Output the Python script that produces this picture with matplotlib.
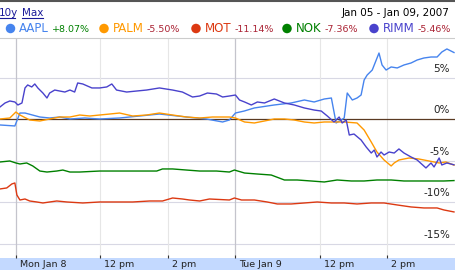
import matplotlib.pyplot as plt
import matplotlib.patches as mpatches
import matplotlib.transforms as mtransforms

# trading hours since Mon Jan 8 open (Tue Jan 9 open = 6.5), percent change
aapl_t = [-0.47, -0.03, 0.12, 0.27, 0.71, 1.00, 1.30, 1.60, 2.04, 2.48, 3.07, 3.66, 4.25,
          5.05, 5.64, 6.12, 6.32, 6.50, 6.76, 7.06, 7.65, 8.15, 8.54, 8.83, 9.13, 9.34,
          9.48, 9.63, 9.72, 9.81, 9.96, 10.10, 10.22, 10.31, 10.40, 10.55, 10.75, 10.84,
          10.96, 11.11, 11.29, 11.49, 11.70, 11.88, 12.08, 12.29, 12.47, 12.61, 12.76, 12.97]
aapl_v = [-0.66, -0.78, 0.78, 0.78, 0.30, 0.18, 0.30, 0.06, 0.18, 0.06, 0.18, 0.42, 0.66,
          0.30, 0.06, -0.30, -0.06, 0.78, 1.02, 1.39, 1.75, 1.99, 2.35, 2.11, 2.47, 2.59,
          -0.42, -0.06, 0.18, 3.19, 2.35, 2.59, 2.95, 4.76, 5.36, 5.96, 8.01, 6.57,
          5.96, 6.33, 6.21, 6.57, 6.81, 7.17, 7.41, 7.53, 7.53, 8.13, 8.50, 8.07]

palm_t = [-0.47, -0.18, 0.00, 0.12, 0.41, 0.71, 1.00, 1.30, 1.60, 1.89, 2.19, 2.48, 2.78,
          3.07, 3.46, 3.87, 4.25, 4.64, 5.05, 5.44, 5.82, 6.32, 6.50, 6.77, 7.06, 7.36,
          7.65, 7.95, 8.24, 8.54, 8.83, 9.13, 9.42, 9.72, 10.10, 10.31, 10.52, 10.69,
          10.90, 11.11, 11.20, 11.34, 11.64, 11.93, 12.23, 12.53, 12.73, 12.97]
palm_v = [0.06, 0.18, 0.90, 0.54, -0.06, -0.18, 0.06, 0.30, 0.30, 0.54, 0.42, 0.54, 0.66,
          0.78, 0.42, 0.54, 0.78, 0.54, 0.30, 0.18, 0.30, 0.30, 0.18, -0.30, -0.42, -0.18,
          0.06, 0.06, -0.06, -0.30, -0.42, -0.30, -0.30, -0.30, -0.42, -1.27, -2.71, -3.92,
          -4.88, -5.60, -5.24, -4.88, -4.64, -4.76, -5.00, -5.24, -5.12, -5.50]

mot_t = [-0.47, -0.27, -0.12, -0.03, 0.03, 0.12, 0.27, 0.41, 0.62, 0.80, 1.00, 1.21, 1.51,
         1.98, 2.48, 2.98, 3.46, 3.96, 4.34, 4.64, 4.93, 5.14, 5.44, 5.73, 6.32, 6.47,
         6.68, 7.06, 7.44, 7.74, 8.15, 8.54, 8.92, 9.34, 9.72, 10.10, 10.52, 10.90,
         11.29, 11.70, 12.08, 12.47, 12.67, 12.97]
mot_v = [-8.37, -8.25, -7.77, -7.65, -9.10, -9.70, -9.58, -9.82, -9.94, -10.06, -9.94, -9.82, -9.94,
         -10.06, -9.94, -9.94, -9.94, -9.82, -9.82, -9.46, -9.58, -9.70, -9.82, -9.58, -9.70, -9.46,
         -9.70, -9.70, -9.94, -10.18, -10.18, -10.06, -9.94, -10.06, -10.06, -10.18, -10.06, -10.06,
         -10.30, -10.54, -10.66, -10.66, -10.90, -11.14]

nok_t = [-0.47, -0.18, 0.00, 0.12, 0.32, 0.50, 0.71, 0.92, 1.21, 1.39, 1.60, 1.89, 2.48,
         3.46, 4.17, 4.34, 4.64, 5.05, 5.44, 5.94, 6.32, 6.47, 6.77, 7.15, 7.56, 7.95,
         8.33, 8.74, 9.13, 9.51, 9.93, 10.31, 10.69, 11.11, 11.49, 11.88, 12.29, 12.67, 12.97]
nok_v = [-5.12, -5.00, -5.24, -5.36, -5.24, -5.60, -6.21, -6.33, -6.21, -6.09, -6.33, -6.33, -6.21,
         -6.21, -6.21, -5.96, -5.96, -6.09, -6.21, -6.21, -6.33, -6.09, -6.45, -6.57, -6.69, -7.29,
         -7.29, -7.41, -7.53, -7.29, -7.41, -7.41, -7.29, -7.29, -7.41, -7.41, -7.41, -7.41, -7.36]

rimm_t = [-0.47, -0.32, -0.18, -0.03, 0.06, 0.18, 0.27, 0.35, 0.47, 0.56, 0.65, 0.80, 0.92,
          1.00, 1.15, 1.30, 1.45, 1.60, 1.74, 1.83, 1.98, 2.25, 2.48, 2.69, 2.84, 2.98,
          3.28, 3.57, 3.87, 4.25, 4.64, 4.93, 5.23, 5.44, 5.67, 5.94, 6.12, 6.32, 6.50,
          6.62, 6.77, 6.97, 7.15, 7.36, 7.65, 7.95, 8.24, 8.54, 8.83, 9.04, 9.22, 9.42,
          9.57, 9.66, 9.78, 9.87, 10.01, 10.22, 10.37, 10.52, 10.61, 10.69, 10.81, 10.90,
          11.05, 11.20, 11.34, 11.49, 11.70, 11.88, 12.14, 12.29, 12.38, 12.53, 12.61, 12.76, 12.97]
rimm_v = [1.51, 1.99, 2.23, 2.11, 1.75, 1.99, 3.80, 4.16, 3.92, 4.28, 3.80, 3.19, 2.59,
          3.19, 3.55, 3.43, 3.31, 3.55, 3.31, 4.40, 4.28, 3.80, 3.80, 3.92, 4.28, 3.55,
          3.31, 3.43, 3.55, 3.80, 3.55, 3.31, 2.71, 2.83, 3.19, 3.07, 2.71, 2.83, 2.95,
          2.35, 2.11, 1.75, 2.11, 1.99, 2.47, 1.99, 1.75, 1.39, 1.14, 1.02, 0.42, -0.30,
          0.30, -0.42, -0.06, -1.87, -1.75, -2.47, -3.31, -4.04, -3.68, -4.52, -3.92, -4.28,
          -3.92, -4.04, -3.55, -4.04, -4.52, -4.88, -5.84, -5.24, -5.72, -4.64, -5.48, -5.24, -5.46]

tickers = ["AAPL", "PALM", "MOT", "NOK", "RIMM"]
changes = ["+8.07%", "-5.50%", "-11.14%", "-7.36%", "-5.46%"]
colors = ["#4684ee", "#ff9900", "#dc3912", "#008000", "#4942cc"]

x_ticks = [0, 2.5, 4.5, 6.5, 9.0, 11.0]
x_labels = ["Mon Jan 8", "12 pm", "2 pm", "Tue Jan 9", "12 pm", "2 pm"]
day_starts = [0, 6.5]
y_ticks = [5, -5, -10, -15]
y_labels = ["5%", "0%", "-5%", "-10%", "-15%"]

W, H = 455, 270
fig = plt.figure(figsize=(W / 100, H / 100), dpi=100)

# frame layer in pixel coordinates (header, legend, bottom band)
ov = fig.add_axes([0, 0, 1, 1])
ov.set_xlim(0, W)
ov.set_ylim(H, 0)
ov.axis('off')
ov.add_patch(mpatches.Rectangle((0, 258), W, 12, color="#c3d9ff", lw=0))
ov.plot([0, W], [0.6, 0.6], color="#555555", lw=1.5)

link = "#1a1a99"
ov.text(-1, 13, "10y", fontsize=7.5, color=link, va='center')
ov.plot([0, 15], [17.5, 17.5], color=link, lw=0.8)
ov.text(22, 13, "Max", fontsize=7.5, color=link, va='center')
ov.plot([22, 43], [17.5, 17.5], color=link, lw=0.8)
ov.text(449, 13, "Jan 05 - Jan 09, 2007", fontsize=7.5, color="#000000",
        va='center', ha='right')

leg_x = [10.5, 104, 196, 287, 374]
for lx, name, chg, c in zip(leg_x, tickers, changes, colors):
    ov.add_patch(mpatches.Ellipse((lx, 28.5), 9.5, 9.5, color=c, lw=0))
    t = ov.text(lx + 8.5, 29, name, fontsize=8.5, color=c, va='center')
    fig.canvas.draw()
    bb = t.get_window_extent()
    pc = "#008000" if chg.startswith("+") else "#aa2233"
    ov.text(bb.x1 + 3, 29.5, chg, fontsize=6.8, color=pc, va='center')

# chart
ax = fig.add_axes([0, 12 / H, 1, 220 / H])
ax.set_facecolor('none')
ax.set_xlim(-0.47, 13.0)
ax.set_ylim(-16.69, 9.82)

for yv in y_ticks:
    ax.axhline(yv, color="#d8d8e4", lw=0.8, zorder=1)
ax.axhline(0, color="#5a3a22", lw=0.9, zorder=2)
for xv in x_ticks:
    if xv in day_starts:
        ax.axvline(xv, color="#c4c4cc", lw=0.9, zorder=1)
    else:
        ax.axvline(xv, color="#e6e6e6", lw=0.8, zorder=1)

series = [(aapl_t, aapl_v), (palm_t, palm_v), (mot_t, mot_v), (nok_t, nok_v), (rimm_t, rimm_v)]
for (t, v), c in zip(series, colors):
    ax.plot(t, v, color=c, lw=1.0, zorder=3)

for yv, lab in zip([5, 0, -5, -10, -15], y_labels):
    ax.text(0.989, yv + 0.5, lab, transform=ax.get_yaxis_transform(),
            ha='right', va='bottom', fontsize=7.5, color="#222222")

for s in ['left', 'right', 'bottom']:
    ax.spines[s].set_visible(False)
ax.spines['top'].set_color("#cccccc")
ax.spines['top'].set_linewidth(0.8)

ax.set_yticks([])
ax.set_xticks(x_ticks, x_labels)
ax.tick_params(axis='x', direction='in', length=2.5, width=0.8, color="#333333",
               pad=1.5, labelsize=6.8, labelcolor="#222222")
offset = mtransforms.ScaledTranslation(4 / 100, 0, fig.dpi_scale_trans)
for lab in ax.get_xticklabels():
    lab.set_horizontalalignment('left')
    lab.set_transform(lab.get_transform() + offset)

fig.savefig("out.png", dpi=100)
